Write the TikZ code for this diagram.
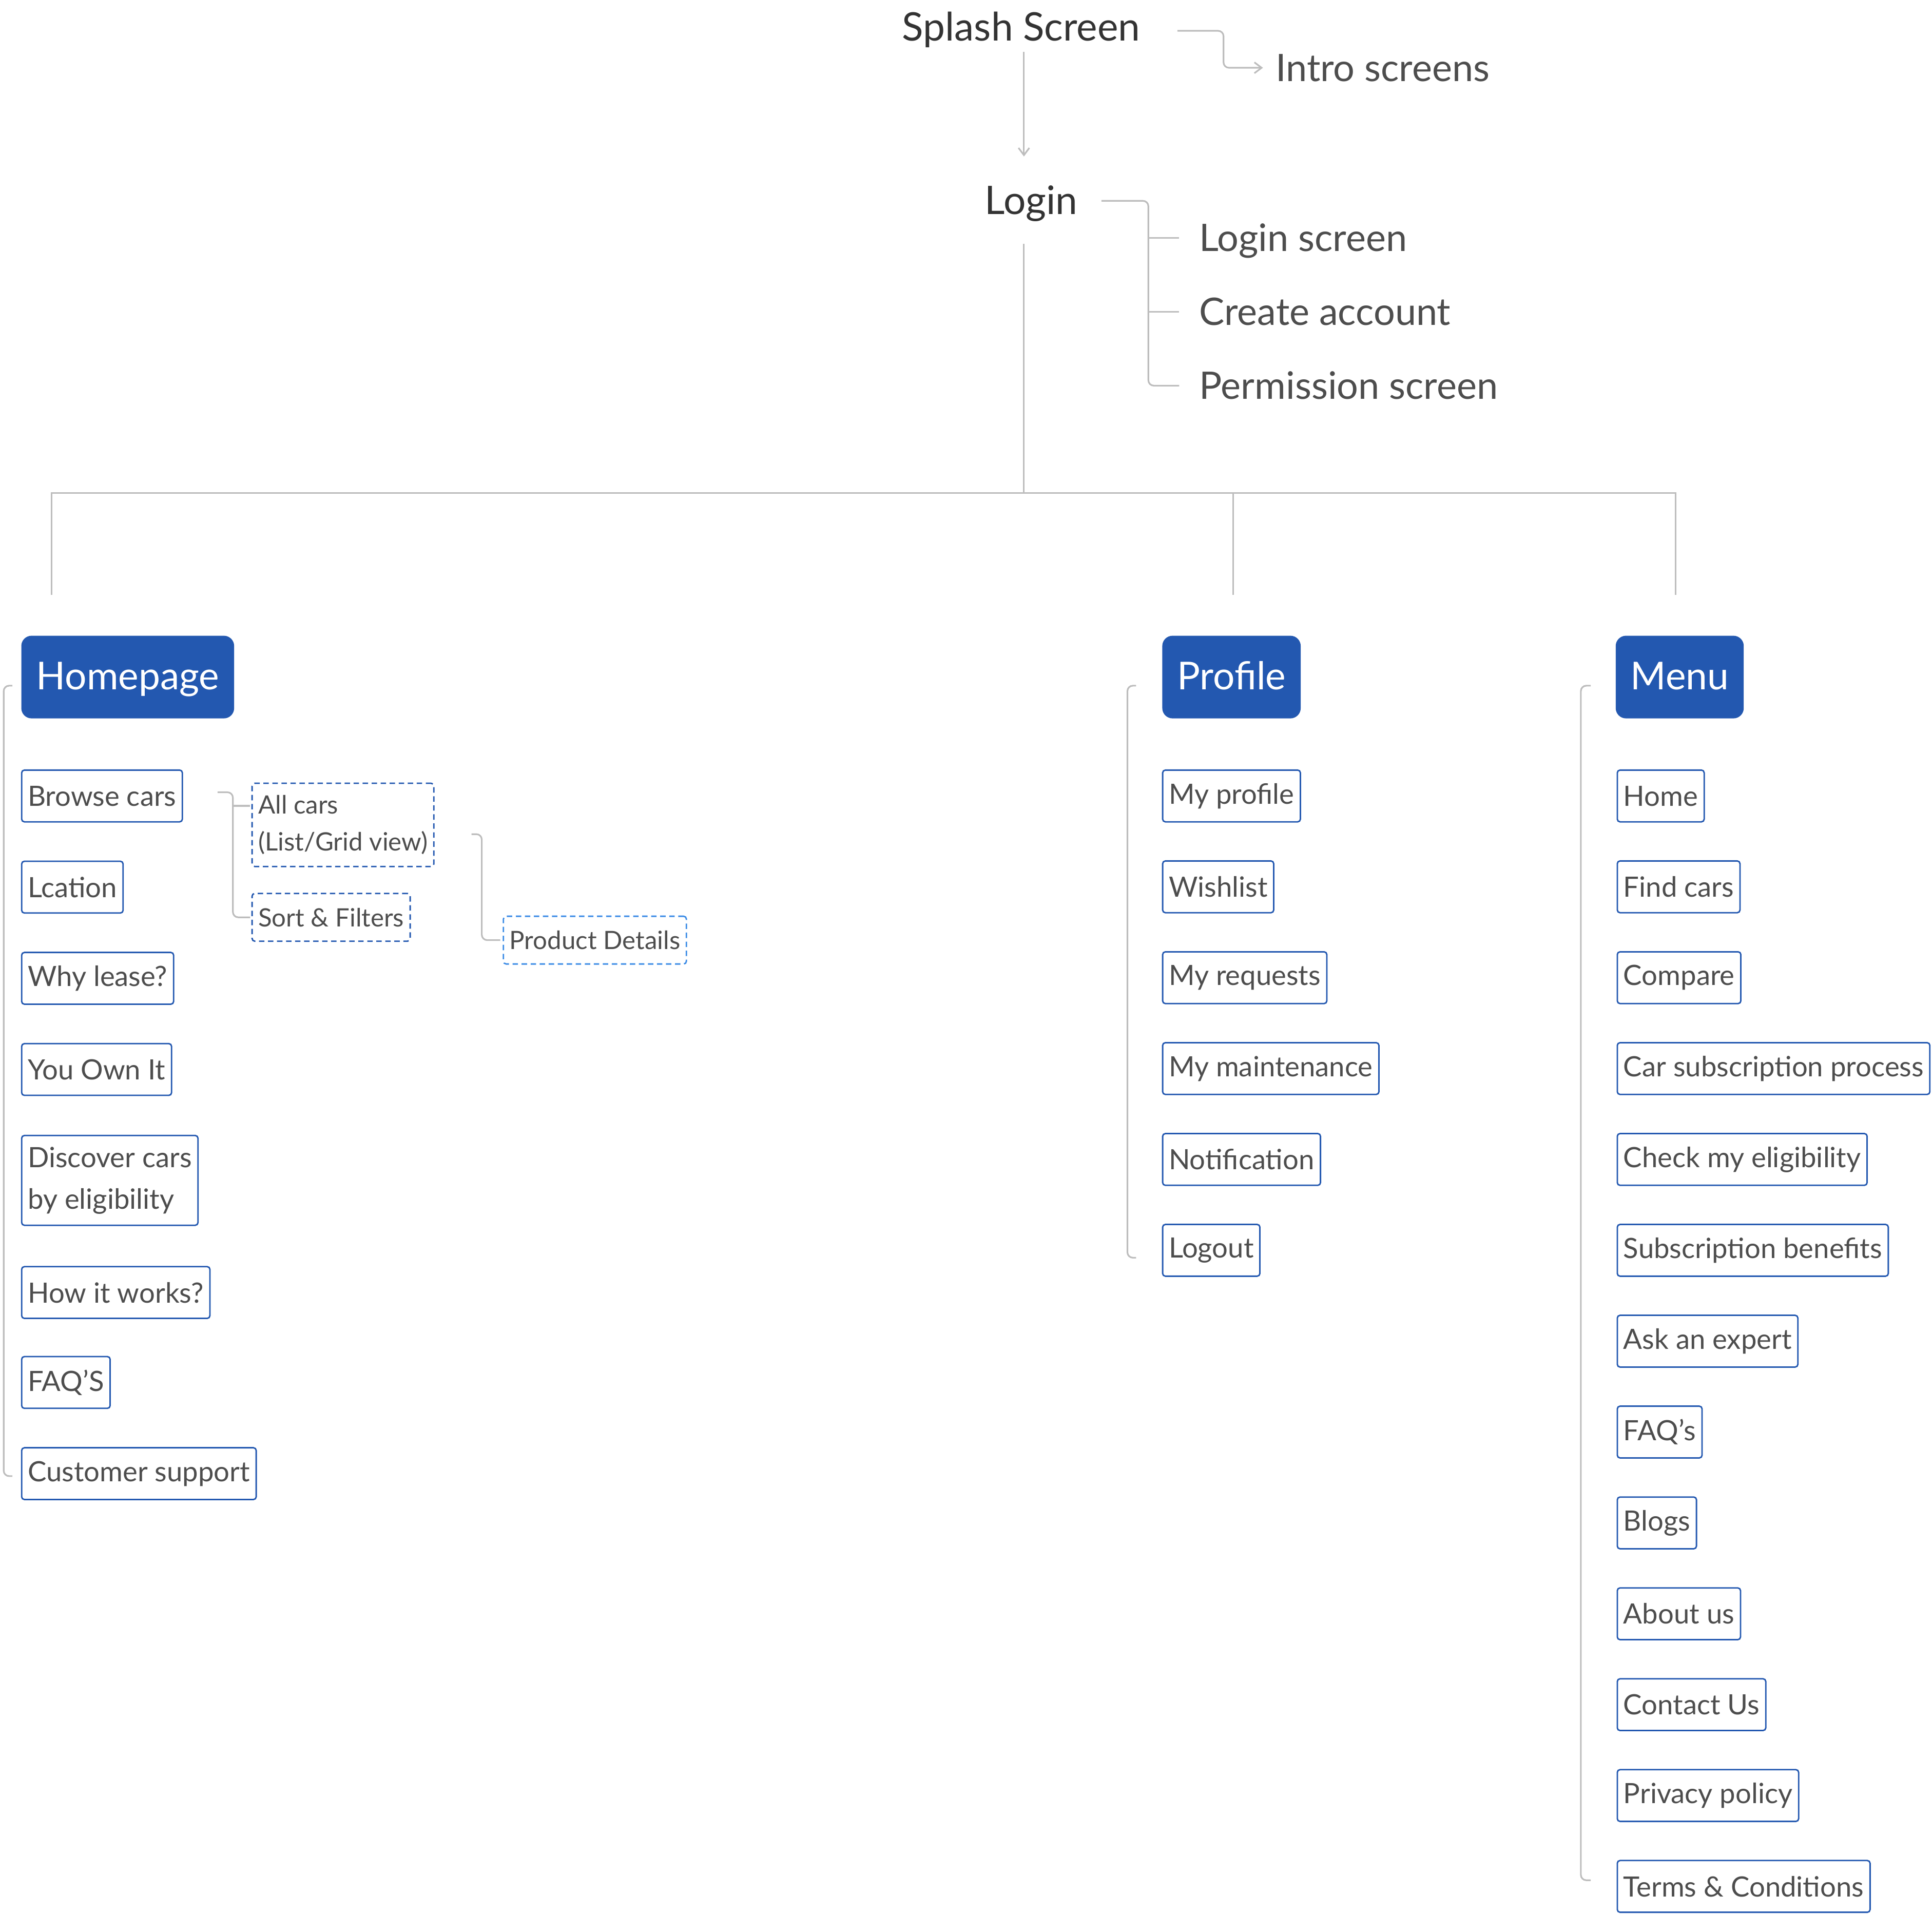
\documentclass[tikz,border=0pt]{standalone}
\usepackage{fontspec}
\setmainfont{Lato}
\usetikzlibrary{arrows.meta}
\definecolor{hblue}{HTML}{2358B0}
\definecolor{lblue}{HTML}{3C8CE6}
\definecolor{wgrey}{HTML}{BDBDBD}
\definecolor{tgrey}{HTML}{4D4D4D}
\definecolor{tdark}{HTML}{333333}

\begin{document}
\begin{tikzpicture}[x=0.24mm,y=-0.24mm,>={Straight Barb[length=4pt,width=6pt]},
	head/.style={anchor=base west,inner sep=0pt,text=tdark,font=\fontsize{21.8}{26}\selectfont},
	sub/.style={head,text=tgrey,font=\fontsize{21}{25}\selectfont},
	hdr/.style={anchor=west,fill=hblue,text=white,rounded corners=0.2cm,inner xsep=0.29cm,inner ysep=0pt,text height=0.6cm,text depth=0.12cm,minimum height=1.61cm,font=\fontsize{21.3}{25}\selectfont},
	item/.style={anchor=west,draw=hblue,line width=0.8pt,rounded corners=1.5pt,text=tgrey,inner xsep=0.12cm,inner ysep=0.22cm,minimum height=1.008cm,align=left,font=\fontsize{15.5}{23.1}\selectfont},
	sel/.style={item,draw=#1,dash pattern=on 3pt off 2pt,inner ysep=0.235cm,minimum height=0.93cm,font=\fontsize{14}{20.4}\selectfont},
	wire/.style={draw=wgrey,line width=0.9pt},
	brk/.style={wire,rounded corners=3pt}]
		\useasboundingbox (0,0) rectangle (1568,1553.4);
		%top
		\node[head] (splash) at (732,33) {Splash Screen};
		\node[sub] (intro) at (1035,66) {Intro screens};
		\node[head] (login) at (799,174) {Login};
		\node[sub] (lg1) at (973,204) {Login screen};
		\node[sub] (lg2) at (973,264) {Create account};
		\node[sub] (lg3) at (973,324) {Permission screen};
		\coordinate (jn) at (831,400);
		\draw[brk,->] ([shift={(30,-8)}]splash.base east) -| ([shift={(-42,-11)}]intro.base west) -- ([shift={(-10,-11)}]intro.base west);
		\draw[wire,->] ([shift={(0,-358)}]jn) -- ([shift={(0,-273)}]jn);
		\draw[brk] ([shift={(19,-11)}]login.base east) -| ([shift={(-41,-11)}]lg3.base west) -- ([shift={(-16,-11)}]lg3.base west);
		\foreach \n in {lg1,lg2}{
		\draw[wire] ([shift={(-41,-11)}]\n.base west) -- ([shift={(-16,-11)}]\n.base west);}
		
		%sections
		\node[hdr] (home) at (17,549.5) {Homepage};
		\node[hdr] (prof) at (943,549.5) {Profile};
		\node[hdr] (menu) at (1311,549.5) {Menu};
		\draw[wire] ([shift={(0,-202)}]jn) -- (jn);
		\draw[wire] (jn) -| ([shift={(25,-33)}]home.north west);
		\draw[wire] (jn) -| ([shift={(1.5,-33)}]prof.north);
		\draw[wire] (jn) -| ([shift={(-3.5,-33)}]menu.north);
		
		%homepage
		\foreach \y/\t [count=\i] in {646/Browse cars,720/Lcation,794/Why lease?,868/You Own It,958/{Discover cars\\by eligibility},1049/How it works?,1122/FAQ’S,1196/Customer support}{
		\node[item] (hp\i) at (17,\y) {\t};}
		\node[sel=hblue] (allc) at (204,669.5) {All cars\\(List/Grid view)};
		\node[sel=hblue] (sort) at (204,744.5) {Sort \& Filters};
		\node[sel=lblue] (prod) at (408,763) {Product Details};
		\draw[brk] ([shift={(-7,7)}]home.west) -| ([shift={(-14,2)}]hp8.west) -- ([shift={(-7,2)}]hp8.west);
		\draw[brk] ([shift={(28,-3)}]hp1.east) -| ([shift={(-15,0)}]sort.west) -- ([shift={(-1,0)}]sort.west);
		\draw[wire] ([shift={(-15,-15.5)}]allc.west) -- ([shift={(-1,-15.5)}]allc.west);
		\draw[brk] ([shift={(30,7.5)}]allc.east) -| ([shift={(-17,0)}]prod.west) -- ([shift={(-2,0)}]prod.west);
		
		%profile
		\foreach \t [count=\i] in {My profile,Wishlist,My requests,My maintenance,Notification,Logout}{
		\node[item] (pf\i) at (943,{572.25+73.75*\i}) {\t};}
		\draw[brk] ([shift={(-21,7)}]prof.west) -| ([shift={(-28,6)}]pf6.west) -- ([shift={(-21,6)}]pf6.west);
		
		%menu
		\foreach \t [count=\i] in {Home,Find cars,Compare,Car subscription process,Check my eligibility,Subscription benefits,Ask an expert,FAQ’s,Blogs,About us,Contact Us,Privacy policy,Terms \& Conditions}{
		\node[item] (mn\i) at (1312,{572.25+73.75*\i}) {\t};}
		\draw[brk] ([shift={(-20,7)}]menu.west) -| ([shift={(-29,-5)}]mn13.west) -- ([shift={(-21,-5)}]mn13.west);
		
\end{tikzpicture}
\end{document}
